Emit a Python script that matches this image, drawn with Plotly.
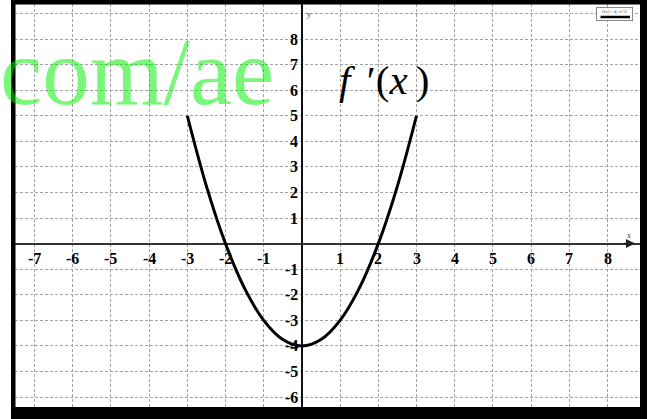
import plotly.graph_objects as go

# values
curve_x = [-3, -2.5, -2, -1.5, -1, -0.5, 0, 0.5, 1, 1.5, 2, 2.5, 3]
curve_y = [5, 2.25, 0, -1.75, -3, -3.75, -4, -3.75, -3, -1.75, 0, 2.25, 5]
x_tick_labels = [-7, -6, -5, -4, -3, -2, -1, 1, 2, 3, 4, 5, 6, 7, 8]
y_tick_labels = [-6, -5, -4, -3, -2, -1, 1, 2, 3, 4, 5, 6, 7, 8]
legend_text = "f(x)=-4+x^2"
watermark = "com/ae"

W, H = 651, 419
ML, MR, MT, MB = 15, 11, 4, 12
PW, PH = W - ML - MR, H - MT - MB


def px(x):
    return (x - ML) / PW


def py(y):
    return (H - MB - y) / PH


SERIF = "Liberation Serif"

fig = go.Figure(go.Scatter(
    x=curve_x, y=curve_y, mode="lines",
    line=dict(color="black", width=3, shape="spline"),
    showlegend=False, hoverinfo="skip",
))

tick_font = dict(family=SERIF, size=16, color="black", weight="bold")
annotations = []
for v in x_tick_labels:
    annotations.append(dict(x=v, y=0, xref="x", yref="y", text=str(v), showarrow=False,
                            yshift=-15, font=tick_font, xanchor="center", yanchor="middle"))
for v in y_tick_labels:
    annotations.append(dict(x=0, y=v, xref="x", yref="y", text=str(v), showarrow=False,
                            xshift=-2, font=tick_font, xanchor="right", yanchor="middle"))

# axis names and arrow
annotations.append(dict(x=0, y=1, xref="x", yref="paper", text="y", showarrow=False,
                        xshift=7, yshift=-4, font=dict(family=SERIF, size=8, color="#333")))
annotations.append(dict(x=8.55, y=0, xref="x", yref="y", text="x", showarrow=False,
                        yshift=8, font=dict(family=SERIF, size=8, color="#333")))
annotations.append(dict(x=8.72, y=0, ax=8.4, ay=0, xref="x", yref="y", axref="x", ayref="y",
                        text="", showarrow=True, arrowhead=2, arrowsize=1.2, arrowwidth=1.5,
                        arrowcolor="#222"))

# f'(x) label
annotations.append(dict(x=2.17, y=6.4, xref="x", yref="y", showarrow=False,
                        text="<i>f</i>\u2009\u2009\u2032(<i>x</i>\u2009)",
                        font=dict(family=SERIF, size=41, color="black")))

# tiny legend: box, text, sample line
annotations.append(dict(x=px(614.5), y=py(14), xref="paper", yref="paper", showarrow=False,
                        xanchor="center", yanchor="middle",
                        text="", width=35, height=12, bgcolor="white",
                        bordercolor="#888", borderwidth=1, borderpad=0))
annotations.append(dict(x=px(614.5), y=py(11), xref="paper", yref="paper", showarrow=False,
                        xanchor="center", yanchor="middle",
                        text=legend_text, font=dict(family=SERIF, size=5, color="#444")))
annotations.append(dict(x=px(630), y=py(17), ax=-31, ay=0,
                        xref="paper", yref="paper",
                        text="", showarrow=True, arrowhead=0, arrowwidth=2.5, arrowcolor="black",
                        standoff=0, startstandoff=0))

# green watermark
annotations.append(dict(x=px(0), y=6.7, xref="paper", yref="y", showarrow=False,
                        xanchor="left", yanchor="middle", xshift=-2,
                        text=watermark,
                        font=dict(family=SERIF, size=95, color="rgba(0,240,0,0.52)")))

shapes = [
    # thick frame
    dict(type="rect", xref="paper", yref="paper", x0=px(11), x1=px(15.5), y0=py(419), y1=py(0),
         fillcolor="black", line_width=0, layer="above"),
    dict(type="rect", xref="paper", yref="paper", x0=px(640), x1=px(647), y0=py(419), y1=py(0),
         fillcolor="black", line_width=0, layer="above"),
    dict(type="rect", xref="paper", yref="paper", x0=px(11), x1=px(647), y0=py(4.5), y1=py(0),
         fillcolor="black", line_width=0, layer="above"),
    dict(type="rect", xref="paper", yref="paper", x0=px(11), x1=px(647), y0=py(419), y1=py(407),
         fillcolor="black", line_width=0, layer="above"),
]

fig.update_layout(
    width=W, height=H,
    margin=dict(l=ML, r=MR, t=MT, b=MB, pad=0),
    plot_bgcolor="white", paper_bgcolor="white",
    annotations=annotations, shapes=shapes,
    xaxis=dict(range=[-7.51, 8.85], dtick=1, tick0=0, showticklabels=False, ticks="",
               showgrid=True, gridcolor="#a4a4a4", griddash="3px,2px", gridwidth=1,
               zeroline=True, zerolinecolor="#111", zerolinewidth=1.5, showline=False,
               fixedrange=True),
    yaxis=dict(range=[-6.39, 9.37], dtick=1, tick0=0, showticklabels=False, ticks="",
               showgrid=True, gridcolor="#a4a4a4", griddash="3px,2px", gridwidth=1,
               zeroline=True, zerolinecolor="#333", zerolinewidth=1.5, showline=False,
               fixedrange=True),
)

fig.write_html("out.html", post_script="document.body.style.margin='0';",
               config={"displayModeBar": False})
